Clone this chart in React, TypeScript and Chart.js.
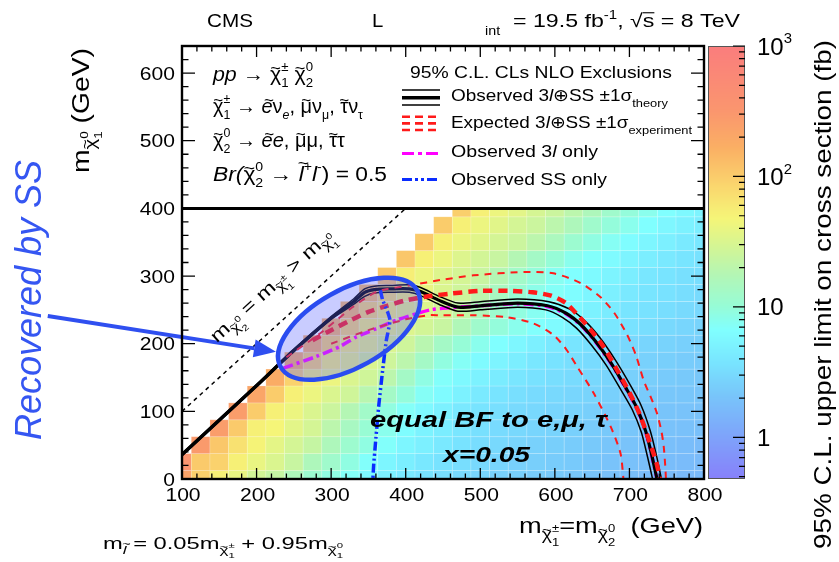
import React, { useEffect, useRef } from "react";
import { Chart, registerables } from "chart.js";

Chart.register(...registerables);

const FONT = '"Liberation Sans", Arial, Helvetica, sans-serif';
const CANVAS_W = 839;
const CANVAS_H = 562;

// ---------- axes ----------
const X_RANGE = [100, 800];
const Y_RANGE = [0, 640];
const Z_RANGE = [0.48, 1000];
const X_TICKS = [100, 200, 300, 400, 500, 600, 700, 800];
const Y_TICKS = [0, 100, 200, 300, 400, 500, 600];
const Z_TICKS = [1, 10, 100, 1000];
const Z_TICK_LABELS: [string, string][] = [["1", ""], ["10", ""], ["10", "2"], ["10", "3"]];
const LEGEND_FLOOR = 400;

// ---------- heat map: log10 of 95% CL upper limit (fb) ----------
const CELL_X = [100, 125, 150, 175, 200, 225, 250, 275, 300, 325, 350, 375, 400, 425, 450, 475, 500, 525, 550, 575, 600, 625, 650, 675, 700, 725, 750, 775, 800];
const CELL_Y = [0, 25, 50, 75, 100, 125, 150, 175, 200, 225, 250, 275, 300, 325, 350, 375, 400];
const CELL_HALF = 12.5;
// each row ends at x=800; rows start on the diagonal edge
const LOG10_LIMIT: number[][] = [
  [2.35, 1.98, 1.72, 1.6, 1.45, 1.36, 1.2, 1.05, 0.95, 0.85, 0.76, 0.68, 0.62, 0.56, 0.52, 0.48, 0.45, 0.42, 0.4, 0.38, 0.36, 0.34, 0.31, 0.28, 0.26, 0.24, 0.23, 0.22, 0.22],
  [2.55, 2.02, 1.96, 1.72, 1.6, 1.5, 1.38, 1.2, 1.08, 0.95, 0.84, 0.74, 0.67, 0.61, 0.56, 0.52, 0.48, 0.45, 0.42, 0.4, 0.38, 0.36, 0.33, 0.3, 0.28, 0.26, 0.25, 0.24, 0.23],
  [2.45, 2.04, 1.84, 1.7, 1.57, 1.46, 1.36, 1.2, 1.06, 0.95, 0.84, 0.74, 0.68, 0.62, 0.56, 0.51, 0.48, 0.44, 0.42, 0.4, 0.38, 0.35, 0.32, 0.3, 0.28, 0.26, 0.25, 0.24],
  [2.42, 2.02, 1.72, 1.68, 1.56, 1.46, 1.3, 1.15, 1.02, 0.9, 0.8, 0.71, 0.65, 0.59, 0.54, 0.5, 0.47, 0.45, 0.43, 0.41, 0.38, 0.35, 0.33, 0.31, 0.29, 0.28, 0.27],
  [2.42, 2.0, 1.72, 1.62, 1.5, 1.4, 1.25, 1.1, 0.96, 0.85, 0.76, 0.69, 0.62, 0.57, 0.53, 0.49, 0.47, 0.45, 0.43, 0.4, 0.37, 0.35, 0.33, 0.31, 0.3, 0.29],
  [2.33, 2.0, 1.72, 1.62, 1.5, 1.43, 1.28, 1.12, 0.98, 0.86, 0.78, 0.7, 0.63, 0.57, 0.53, 0.5, 0.48, 0.46, 0.44, 0.41, 0.38, 0.36, 0.34, 0.33, 0.32],
  [2.25, 1.96, 1.72, 1.62, 1.5, 1.43, 1.3, 1.12, 0.94, 0.84, 0.76, 0.7, 0.64, 0.59, 0.55, 0.52, 0.5, 0.47, 0.44, 0.41, 0.39, 0.37, 0.35, 0.34],
  [2.22, 1.96, 1.72, 1.62, 1.5, 1.42, 1.3, 1.12, 0.96, 0.86, 0.78, 0.72, 0.66, 0.6, 0.56, 0.53, 0.5, 0.47, 0.44, 0.42, 0.4, 0.38, 0.37],
  [2.2, 1.94, 1.72, 1.62, 1.5, 1.42, 1.28, 1.12, 1.0, 0.9, 0.82, 0.75, 0.68, 0.62, 0.58, 0.54, 0.5, 0.47, 0.45, 0.43, 0.41, 0.4],
  [2.15, 1.92, 1.72, 1.62, 1.52, 1.45, 1.38, 1.22, 1.08, 0.98, 0.9, 0.83, 0.78, 0.72, 0.66, 0.6, 0.55, 0.52, 0.48, 0.46, 0.44],
  [2.12, 1.9, 1.72, 1.62, 1.52, 1.45, 1.35, 1.2, 1.06, 0.96, 0.88, 0.82, 0.76, 0.7, 0.64, 0.58, 0.55, 0.52, 0.49, 0.47],
  [2.1, 1.85, 1.7, 1.6, 1.5, 1.42, 1.3, 1.15, 1.02, 0.92, 0.85, 0.8, 0.74, 0.68, 0.62, 0.58, 0.55, 0.52, 0.5],
  [2.04, 1.74, 1.62, 1.52, 1.46, 1.38, 1.25, 1.1, 0.98, 0.88, 0.82, 0.77, 0.72, 0.66, 0.6, 0.57, 0.54, 0.52],
  [2.04, 1.72, 1.62, 1.52, 1.45, 1.38, 1.25, 1.12, 1.0, 0.9, 0.84, 0.78, 0.72, 0.66, 0.62, 0.58, 0.55],
  [2.02, 1.72, 1.62, 1.55, 1.46, 1.4, 1.3, 1.18, 1.05, 0.95, 0.87, 0.8, 0.74, 0.68, 0.63, 0.6],
  [2.0, 1.72, 1.62, 1.55, 1.46, 1.4, 1.3, 1.2, 1.08, 0.98, 0.9, 0.82, 0.75, 0.7, 0.66],
  [1.98, 1.72, 1.63, 1.56, 1.47, 1.4, 1.3, 1.2, 1.08, 0.98, 0.9, 0.82, 0.76, 0.72],
];

// ---------- exclusion contours (x = m chargino, y = m LSP) ----------
const OBSERVED: [number, number][] = [[100, 36], [150, 87], [200, 138], [250, 190], [300, 238], [330, 262], [345, 276], [358, 280], [380, 281], [405, 281], [420, 277], [445, 264], [470, 254], [500, 256], [550, 260], [590, 256], [615, 245], [635, 228], [655, 203], [675, 172], [695, 135], [710, 105], [722, 70], [730, 35], [735, 10], [737, 0]];
const OBS_THEORY_UP: [number, number][] = [[100, 38], [150, 89], [200, 140], [250, 192], [300, 240], [330, 266], [345, 281], [358, 285], [380, 286], [405, 287], [420, 283], [445, 270], [470, 260], [500, 262], [550, 266], [592, 262], [620, 251], [641, 233], [661, 208], [681, 176], [701, 139], [716, 108], [728, 71], [736, 36], [741, 10], [743, 0]];
const OBS_THEORY_DOWN: [number, number][] = [[100, 34], [150, 85], [200, 136], [250, 188], [300, 236], [330, 258], [345, 270], [358, 275], [380, 276], [405, 276], [420, 271], [445, 258], [470, 248], [500, 250], [550, 254], [588, 250], [610, 239], [629, 223], [649, 198], [669, 168], [689, 131], [704, 102], [716, 69], [724, 34], [729, 10], [731, 0]];
const EXPECTED: [number, number][] = [[275, 205], [300, 220], [325, 234], [350, 247], [375, 256], [400, 264], [430, 270], [460, 274], [500, 278], [540, 278], [570, 276], [595, 271], [615, 260], [630, 243], [647, 222], [665, 196], [684, 160], [700, 128], [714, 95], [727, 55], [736, 25], [741, 0]];
const EXPECTED_UP: [number, number][] = [[240, 180], [285, 215], [330, 255], [362, 277], [410, 287], [446, 294], [491, 301], [558, 306], [598, 304], [634, 290], [661, 269], [680, 245], [697, 213], [709, 182], [719, 146], [729, 120], [737, 97], [743, 70], [746, 48], [748, 20], [749, 0]];
const EXPECTED_DOWN: [number, number][] = [[300, 200], [350, 220], [400, 236], [430, 242], [446, 242], [491, 242], [536, 239], [571, 230], [598, 213], [615, 192], [630, 166], [652, 127], [675, 77], [688, 38], [692, 0]];
const TRILEP_ONLY: [number, number][] = [[236, 164], [280, 181], [312, 196], [334, 210], [360, 222], [388, 235], [433, 250], [460, 253], [500, 256], [550, 259], [590, 255], [615, 244], [635, 227], [655, 202], [675, 171], [695, 134], [710, 104], [722, 69], [730, 34], [735, 10], [737, 0]];
const SS_ONLY: [number, number][] = [[366, 279], [369, 265], [376, 246], [379, 234], [374, 205], [369, 160], [364, 110], [360, 60], [357, 20], [356, 0]];
const KINEMATIC: [number, number][] = [[100, 100], [400, 400]];

// annotation: ellipse + arrow (data coordinates)
const ELLIPSE = { x: 324, y: 222, rx: 105, ry: 52, angleDeg: 29.2 };
const ARROW_FROM: [number, number] = [-80, 241];
const ARROW_TO: [number, number] = [226, 188];

// ---------- palette (log10 value -> rgb) ----------
const PALETTE: [number, number[]][] = [
  [-0.32, [135, 128, 250]], [0.05, [125, 168, 250]], [0.33, [120, 198, 250]], [0.57, [120, 228, 255]],
  [0.82, [128, 255, 255]], [1.0, [150, 252, 215]], [1.25, [180, 246, 180]], [1.45, [210, 245, 150]],
  [1.68, [245, 245, 120]], [1.92, [250, 215, 110]], [2.22, [250, 175, 100]], [2.5, [250, 150, 110]], [3.0, [250, 125, 125]],
];
function paletteColor(l: number) {
  const c = (a: number[]) => `rgb(${Math.round(a[0])},${Math.round(a[1])},${Math.round(a[2])})`;
  if (l <= PALETTE[0][0]) return c(PALETTE[0][1]);
  for (let i = 1; i < PALETTE.length; i++) {
    if (l <= PALETTE[i][0]) {
      const [l0, c0] = PALETTE[i - 1];
      const [l1, c1] = PALETTE[i];
      const t = (l - l0) / (l1 - l0);
      return c([0, 1, 2].map((k) => c0[k] + (c1[k] - c0[k]) * t));
    }
  }
  return c(PALETTE[PALETTE.length - 1][1]);
}

// ---------- rich text ----------
type Seg = { t: string; s?: number; dy?: number; it?: boolean; b?: boolean; stack?: boolean; tilde?: number; over?: boolean };
const chi = (lo: string, hi: string): Seg[] => [
  { t: "\u03C7", tilde: 0.36 },
  { t: lo, s: 0.62, dy: 0.3 },
  { t: hi, s: 0.62, dy: -0.48, stack: true },
];
const chiSub = (lo: string, hi: string): Seg[] => [
  { t: "\u03C7", s: 0.72, dy: 0.3, tilde: 0.36 },
  { t: lo, s: 0.48, dy: 0.58 },
  { t: hi, s: 0.48, dy: -0.06, stack: true },
];

function drawRich(ctx: CanvasRenderingContext2D, segs: Seg[], x: number, y: number, size: number, o: any = {}) {
  const items: any[] = [];
  let cur = 0;
  let pStart = 0;
  for (const g of segs) {
    const fs = size * (g.s ?? 1);
    const font = `${g.it ? "italic " : ""}${g.b ? "bold " : ""}${fs}px ${FONT}`;
    ctx.font = font;
    const w = ctx.measureText(g.t).width;
    let start;
    if (g.stack) {
      start = pStart;
      cur = Math.max(cur, start + w);
    } else {
      start = cur;
      pStart = start;
      cur = start + w;
    }
    items.push({ g, fs, font, x: start, w });
  }
  const width = cur;
  const sx = o.fit ? o.fit / width : o.stretch ?? 1;
  const total = width * sx;
  const ox = o.align === "center" ? -total / 2 : o.align === "right" ? -total : 0;
  ctx.save();
  ctx.translate(x + ox, y);
  ctx.scale(sx, 1);
  ctx.fillStyle = o.color ?? "#000";
  ctx.textAlign = "left";
  ctx.textBaseline = "alphabetic";
  for (const it of items) {
    const dy = (it.g.dy ?? 0) * size;
    ctx.font = it.font;
    ctx.fillText(it.g.t, it.x, dy);
    if (it.g.tilde) {
      const tf = it.fs * 0.85;
      ctx.font = `${tf}px ${FONT}`;
      const tw = ctx.measureText("~").width;
      const slant = it.g.it ? it.fs * 0.1 : 0;
      ctx.fillText("~", it.x + (it.w - tw) / 2 + slant, dy - it.fs * it.g.tilde);
    }
    if (it.g.over) {
      ctx.fillRect(it.x, dy - it.fs * 0.8, it.w, Math.max(1, it.fs * 0.06));
    }
  }
  ctx.restore();
}

// ---------- drawing helpers ----------
function drawHeatmap(chart: any) {
  const { ctx, chartArea: a } = chart;
  const x = chart.scales.x;
  const y = chart.scales.y;
  ctx.save();
  ctx.beginPath();
  ctx.rect(a.left, a.top, a.right - a.left, a.bottom - a.top);
  ctx.clip();
  LOG10_LIMIT.forEach((row: number[], j: number) => {
    const yc = CELL_Y[j];
    const first = CELL_X.length - row.length;
    row.forEach((v: number, k: number) => {
      const xc = CELL_X[first + k];
      const x0 = x.getPixelForValue(xc - CELL_HALF);
      const x1 = x.getPixelForValue(xc + CELL_HALF);
      const y0 = y.getPixelForValue(yc + CELL_HALF);
      const y1 = y.getPixelForValue(yc - CELL_HALF);
      ctx.fillStyle = paletteColor(v);
      ctx.fillRect(x0, y0, x1 - x0, y1 - y0);
      ctx.strokeStyle = "rgba(255,255,255,0.22)";
      ctx.lineWidth = 0.8;
      ctx.strokeRect(x0, y0, x1 - x0, y1 - y0);
    });
  });
  ctx.restore();
}

function drawEllipseAndArrow(chart: any) {
  const { ctx } = chart;
  const x = chart.scales.x;
  const y = chart.scales.y;
  const unit = x.getPixelForValue(1) - x.getPixelForValue(0);
  const cx = x.getPixelForValue(ELLIPSE.x);
  const cy = y.getPixelForValue(ELLIPSE.y);
  ctx.save();
  ctx.beginPath();
  ctx.ellipse(cx, cy, ELLIPSE.rx * unit, ELLIPSE.ry * unit, (-ELLIPSE.angleDeg * Math.PI) / 180, 0, Math.PI * 2);
  ctx.fillStyle = "rgba(90,100,255,0.33)";
  ctx.fill();
  ctx.lineWidth = 4.5;
  ctx.strokeStyle = "#2a4cf0";
  ctx.stroke();
  // arrow
  const ax0 = x.getPixelForValue(ARROW_FROM[0]);
  const ay0 = y.getPixelForValue(ARROW_FROM[1]);
  const ax1 = x.getPixelForValue(ARROW_TO[0]);
  const ay1 = y.getPixelForValue(ARROW_TO[1]);
  const ang = Math.atan2(ay1 - ay0, ax1 - ax0);
  const hl = 22;
  const hw = 9;
  const bx = ax1 - hl * Math.cos(ang);
  const by = ay1 - hl * Math.sin(ang);
  ctx.strokeStyle = "#2f4ff0";
  ctx.fillStyle = "#2f4ff0";
  ctx.lineWidth = 4;
  ctx.beginPath();
  ctx.moveTo(ax0, ay0);
  ctx.lineTo(bx, by);
  ctx.stroke();
  ctx.beginPath();
  ctx.moveTo(ax1, ay1);
  ctx.lineTo(bx + hw * Math.sin(ang), by - hw * Math.cos(ang));
  ctx.lineTo(bx - hw * Math.sin(ang), by + hw * Math.cos(ang));
  ctx.closePath();
  ctx.fill();
  ctx.restore();
}

function legendLine(ctx: CanvasRenderingContext2D, x0: number, x1: number, yy: number, color: string, width: number, dash: number[]) {
  ctx.save();
  ctx.strokeStyle = color;
  ctx.lineWidth = width;
  ctx.setLineDash(dash);
  ctx.beginPath();
  ctx.moveTo(x0, yy);
  ctx.lineTo(x1, yy);
  ctx.stroke();
  ctx.restore();
}

function drawDecorations(chart: any) {
  const { ctx, chartArea: a } = chart;
  const x = chart.scales.x;
  const y = chart.scales.y;
  const z = chart.scales.z;

  // text inside plot
  drawRich(ctx, [{ t: "equal BF to e,\u03BC, \u03C4", it: true, b: true }], 370, 427, 22, { fit: 237 });
  drawRich(ctx, [{ t: "x=0.05", it: true, b: true }], 443, 462, 22, { fit: 87 });

  // diagonal label
  const ang = Math.atan2(y.getPixelForValue(400) - y.getPixelForValue(100), x.getPixelForValue(400) - x.getPixelForValue(100));
  const fx = x.getPixelForValue(171);
  const fy = y.getPixelForValue(171);
  const nx = Math.sin(ang);
  const ny = -Math.cos(ang);
  ctx.save();
  ctx.translate(fx + 27 * nx, fy + 27 * ny);
  ctx.rotate(ang);
  drawRich(ctx, [{ t: "m" }, ...chiSub("2", "0"), { t: " = m" }, ...chiSub("1", "\u00B1"), { t: " > m" }, ...chiSub("1", "0")], 0, 0, 18, { fit: 158 });
  ctx.restore();

  // legend box
  const yFloor = y.getPixelForValue(LEGEND_FLOOR);
  ctx.save();
  ctx.fillStyle = "#fff";
  ctx.fillRect(a.left, a.top, a.right - a.left, yFloor - a.top);
  ctx.strokeStyle = "#000";
  ctx.lineWidth = 3;
  ctx.beginPath();
  ctx.moveTo(a.left, yFloor);
  ctx.lineTo(a.right, yFloor);
  ctx.stroke();
  ctx.restore();

  // frame and ticks (inward)
  ctx.save();
  ctx.strokeStyle = "#000";
  ctx.lineWidth = 1.3;
  ctx.beginPath();
  for (let v = X_RANGE[0]; v <= X_RANGE[1]; v += 20) {
    const px = x.getPixelForValue(v);
    const len = v % 100 === 0 ? 11 : 5.5;
    ctx.moveTo(px, a.bottom);
    ctx.lineTo(px, a.bottom - len);
    ctx.moveTo(px, a.top);
    ctx.lineTo(px, a.top + len);
  }
  for (let v = Y_RANGE[0]; v <= Y_RANGE[1]; v += 20) {
    const py = y.getPixelForValue(v);
    const len = v % 100 === 0 ? 13 : 6.5;
    ctx.moveTo(a.left, py);
    ctx.lineTo(a.left + len, py);
    ctx.moveTo(a.right, py);
    ctx.lineTo(a.right - len, py);
  }
  ctx.stroke();
  ctx.lineWidth = 2.4;
  ctx.strokeRect(a.left, a.top, a.right - a.left, a.bottom - a.top);
  ctx.restore();

  // tick labels
  X_TICKS.forEach((v) => drawRich(ctx, [{ t: String(v) }], x.getPixelForValue(v) + 1, a.bottom + 22, 18, { stretch: 1.17, align: "center" }));
  Y_TICKS.forEach((v) => drawRich(ctx, [{ t: String(v) }], a.left - 7, y.getPixelForValue(v) + 6.5, 18, { stretch: 1.17, align: "right" }));

  // axis titles
  drawRich(ctx, [{ t: "m" }, ...chiSub("1", "\u00B1"), { t: "=m" }, ...chiSub("2", "0"), { t: "  (GeV)" }], 519, 533, 22, { fit: 184 });
  ctx.save();
  ctx.translate(89, 173);
  ctx.rotate(-Math.PI / 2);
  drawRich(ctx, [{ t: "m" }, ...chiSub("1", "0"), { t: " (GeV)" }], 0, 0, 23, { fit: 125 });
  ctx.restore();

  drawRich(ctx, [{ t: "m" }, { t: "l", s: 0.72, dy: 0.32, it: true, tilde: 0.58 }, { t: " = 0.05m" }, ...chiSub("1", "\u00B1"), { t: " + 0.95m" }, ...chiSub("1", "0")], 103, 549, 16, { fit: 240 });

  // top labels
  drawRich(ctx, [{ t: "CMS" }], 207, 27, 18.5, { fit: 46 });
  drawRich(ctx, [{ t: "L" }], 372, 27, 18.5, { stretch: 1.1 });
  drawRich(ctx, [{ t: "int" }], 485, 35, 13, { stretch: 1.1 });
  drawRich(ctx, [{ t: "= 19.5 fb" }, { t: "-1", s: 0.65, dy: -0.45 }, { t: ", \u221A" }, { t: "s", over: true }, { t: " = 8 TeV" }], 513, 27, 18.5, { fit: 227 });

  // legend text (left)
  drawRich(ctx, [{ t: "pp", it: true }, { t: " \u2192 " }, ...chi("1", "\u00B1"), { t: " " }, ...chi("2", "0")], 213, 81, 20, { fit: 100 });
  drawRich(ctx, [...chi("1", "\u00B1"), { t: " \u2192 " }, { t: "e", it: true, tilde: 0.36 }, { t: "\u03BD" }, { t: "e", s: 0.62, dy: 0.3, it: true }, { t: ", " }, { t: "\u03BC", tilde: 0.36 }, { t: "\u03BD" }, { t: "\u03BC", s: 0.62, dy: 0.3 }, { t: ", " }, { t: "\u03C4", tilde: 0.36 }, { t: "\u03BD" }, { t: "\u03C4", s: 0.62, dy: 0.3 }], 213, 113, 20, { fit: 150 });
  drawRich(ctx, [...chi("2", "0"), { t: " \u2192 " }, { t: "e", it: true, tilde: 0.36 }, { t: "e", it: true }, { t: ", " }, { t: "\u03BC", tilde: 0.36 }, { t: "\u03BC" }, { t: ", " }, { t: "\u03C4", tilde: 0.36 }, { t: "\u03C4" }], 213, 147, 20, { fit: 132 });
  drawRich(ctx, [{ t: "Br(", it: true }, ...chi("2", "0"), { t: " \u2192 " }, { t: "l", it: true, tilde: 0.58 }, { t: "+", s: 0.62, dy: -0.48 }, { t: "l", it: true }, { t: "-", s: 0.62, dy: -0.48 }, { t: ") = 0.5" }], 213, 181, 20, { fit: 174 });

  // legend (right)
  drawRich(ctx, [{ t: "95% C.L. CLs NLO Exclusions" }], 410, 78, 17, { fit: 262 });
  const lx0 = 402;
  const lx1 = 440;
  legendLine(ctx, lx0, lx1, 90, "#000", 1.6, []);
  legendLine(ctx, lx0, lx1, 97.7, "#000", 3.6, []);
  legendLine(ctx, lx0, lx1, 105, "#000", 1.6, []);
  legendLine(ctx, lx0, lx1, 116.7, "#ff1a1a", 2.4, [8, 5]);
  legendLine(ctx, lx0, lx1, 123.3, "#ff1a1a", 2.8, [8, 5]);
  legendLine(ctx, lx0, lx1, 130, "#ff1a1a", 2.4, [8, 5]);
  legendLine(ctx, lx0, lx1, 153.5, "#ff00ff", 3, [12, 4, 4, 4]);
  legendLine(ctx, lx0, lx1, 179.5, "#0a2cff", 3, [10, 3, 3, 3, 3, 3]);
  drawRich(ctx, [{ t: "Observed 3" }, { t: "l", it: true }, { t: "\u2295SS \u00B11\u03C3" }, { t: "theory", s: 0.68, dy: 0.33 }], 451, 101, 17, { fit: 217 });
  drawRich(ctx, [{ t: "Expected 3" }, { t: "l", it: true }, { t: "\u2295SS \u00B11\u03C3" }, { t: "experiment", s: 0.68, dy: 0.33 }], 451, 128, 17, { fit: 241 });
  drawRich(ctx, [{ t: "Observed 3" }, { t: "l", it: true }, { t: " only" }], 451, 157, 17, { fit: 147 });
  drawRich(ctx, [{ t: "Observed SS only" }], 451, 185, 17, { fit: 156 });

  // colour bar
  const cb0 = z.left + 4;
  const cb1 = z.left + 41;
  ctx.save();
  for (let py = Math.floor(z.top); py < Math.ceil(z.bottom); py++) {
    const v = z.getValueForPixel(py + 0.5);
    ctx.fillStyle = paletteColor(Math.log10(v));
    ctx.fillRect(cb0, py, cb1 - cb0, 1);
  }
  ctx.strokeStyle = "#555";
  ctx.lineWidth = 1;
  ctx.strokeRect(cb0 + 0.5, z.top + 0.5, cb1 - cb0 - 1, z.bottom - z.top - 1);
  ctx.strokeStyle = "#000";
  ctx.lineWidth = 1.2;
  ctx.beginPath();
  for (let d = 0.1; d <= 1000; d *= 10) {
    for (let m = 1; m <= 9; m++) {
      const v = m * d;
      if (v < Z_RANGE[0] || v > Z_RANGE[1] * 1.0001) continue;
      const py = z.getPixelForValue(v);
      const len = m === 1 ? 12 : 6;
      ctx.moveTo(cb1, py);
      ctx.lineTo(cb1 - len, py);
    }
  }
  ctx.stroke();
  ctx.restore();
  Z_TICKS.forEach((v, i) => {
    const [base, exp] = Z_TICK_LABELS[i];
    const segs: Seg[] = [{ t: base }];
    if (exp) segs.push({ t: exp, s: 0.62, dy: -0.46 });
    drawRich(ctx, segs, z.left + 53, z.getPixelForValue(v) + 8.5, 24, {});
  });
  ctx.save();
  ctx.translate(831, 549);
  ctx.rotate(-Math.PI / 2);
  drawRich(ctx, [{ t: "95% C.L. upper limit on cross section (fb)" }], 0, 0, 24, { fit: 509 });
  ctx.restore();

  // annotation text
  ctx.save();
  ctx.translate(41, 440);
  ctx.rotate(-Math.PI / 2);
  drawRich(ctx, [{ t: "Recovered by SS", it: true }], 0, 0, 37, { fit: 280, color: "#3556f2" });
  ctx.restore();
}

const paintPlugin = {
  id: "paint",
  beforeDraw(chart: any) {
    const c = chart.ctx;
    c.save();
    c.fillStyle = "#fff";
    c.fillRect(0, 0, chart.width, chart.height);
    c.restore();
  },
  beforeDatasetsDraw(chart: any) {
    drawHeatmap(chart);
  },
  afterDatasetsDraw(chart: any) {
    drawEllipseAndArrow(chart);
  },
  afterDraw(chart: any) {
    drawDecorations(chart);
  },
};

const pts = (arr: [number, number][]) => arr.map(([x, y]) => ({ x, y }));
const lineSet = (label: string, data: [number, number][], color: string, width: number, dash: number[], tension = 0.25) => ({
  label,
  data: pts(data),
  showLine: true,
  borderColor: color,
  backgroundColor: color,
  borderWidth: width,
  borderDash: dash,
  pointRadius: 0,
  pointHoverRadius: 0,
  fill: false,
  tension,
});

export default function App() {
  const ref = useRef<HTMLCanvasElement>(null);
  useEffect(() => {
    const canvas = ref.current;
    if (!canvas) return;
    const chart = new Chart(canvas, {
      type: "scatter",
      data: {
        datasets: [
          lineSet("Observed SS only", SS_ONLY, "#0a2cff", 3.5, [9, 3, 2, 3, 2, 3], 0.2),
          lineSet("Expected", EXPECTED, "#ff1a1a", 4.5, [9, 6]),
          lineSet("Expected +1 sigma", EXPECTED_UP, "#ff1a1a", 2, [7, 6]),
          lineSet("Expected -1 sigma", EXPECTED_DOWN, "#ff1a1a", 2, [7, 6]),
          lineSet("Observed", OBSERVED, "#000", 3.2, []),
          lineSet("Observed +1 sigma theory", OBS_THEORY_UP, "#000", 1.5, []),
          lineSet("Observed -1 sigma theory", OBS_THEORY_DOWN, "#000", 1.5, []),
          lineSet("Observed 3l only", TRILEP_ONLY, "#ff00ff", 3.5, [10, 4, 3, 4]),
          lineSet("kinematic limit", KINEMATIC, "#000", 1.5, [4, 4], 0),
        ] as any,
      },
      options: {
        responsive: false,
        devicePixelRatio: 1,
        animation: false,
        events: [],
        layout: { padding: { left: 132, right: 0, top: 46, bottom: 53 } },
        plugins: { legend: { display: false }, tooltip: { enabled: false }, title: { display: false } },
        scales: {
          x: {
            type: "linear",
            position: "bottom",
            min: X_RANGE[0],
            max: X_RANGE[1],
            grid: { display: false },
            border: { display: false },
            ticks: { display: false },
            afterFit: (s: any) => { s.height = 30; },
          },
          y: {
            type: "linear",
            position: "left",
            min: Y_RANGE[0],
            max: Y_RANGE[1],
            grid: { display: false },
            border: { display: false },
            ticks: { display: false },
            afterFit: (s: any) => { s.width = 50; },
          },
          z: {
            type: "logarithmic",
            position: "right",
            min: Z_RANGE[0],
            max: Z_RANGE[1],
            grid: { display: false },
            border: { display: false },
            ticks: { display: false },
            afterFit: (s: any) => { s.width = 135; },
          },
        },
      } as any,
      plugins: [paintPlugin],
    });
    return () => chart.destroy();
  }, []);
  return (
    <div style={{ position: "fixed", left: 0, top: 0, width: CANVAS_W, height: CANVAS_H, background: "#fff" }}>
      <canvas ref={ref} width={CANVAS_W} height={CANVAS_H} style={{ display: "block", width: CANVAS_W, height: CANVAS_H }} />
    </div>
  );
}
